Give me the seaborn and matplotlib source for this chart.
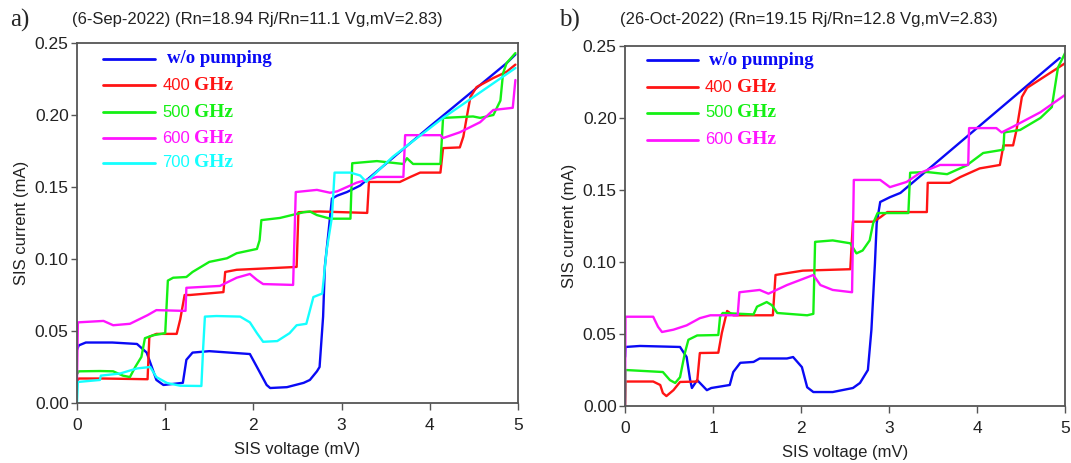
import numpy as np
import pandas as pd
import matplotlib
matplotlib.use("Agg")
import matplotlib.pyplot as plt
import seaborn as sns
from matplotlib.ticker import FormatStrFormatter

# ---- panel a) 6-Sep-2022 ----
a_blue_v = [0, 0.02, 0.1, 0.4, 0.68, 0.79, 0.9, 0.98, 1.2, 1.24, 1.31, 1.5, 1.96, 2.04, 2.15, 2.19, 2.38, 2.57,
            2.64, 2.72, 2.75, 2.79, 2.81, 2.85, 2.89, 2.95, 3.06, 3.21, 4.0, 4.87, 4.97]
a_blue_i = [0.037, 0.040, 0.042, 0.042, 0.041, 0.035, 0.016, 0.0125, 0.014, 0.030, 0.035, 0.036, 0.034, 0.025,
            0.0125, 0.0104, 0.011, 0.014, 0.016, 0.022, 0.025, 0.06, 0.095, 0.118, 0.142, 0.144, 0.1465, 0.151,
            0.192, 0.236, 0.242]

a_red_v = [0, 0.02, 0.3, 0.8, 0.82, 0.9, 1.13, 1.17, 1.22, 1.28, 1.66, 1.68, 1.81, 2.49, 2.51, 2.75, 3.29, 3.31,
           3.66, 3.78, 3.89, 4.12, 4.15, 4.34, 4.38, 4.42, 4.46, 4.53, 4.72, 4.87, 4.97]
a_red_i = [0.015, 0.017, 0.017, 0.0165, 0.046, 0.048, 0.048, 0.058, 0.075, 0.075, 0.077, 0.091, 0.0925, 0.0945,
           0.1325, 0.133, 0.132, 0.1535, 0.1535, 0.157, 0.160, 0.160, 0.177, 0.1775, 0.185, 0.199, 0.2125, 0.2194,
           0.2257, 0.230, 0.235]

a_green_v = [0, 0.02, 0.26, 0.41, 0.52, 0.6, 0.66, 0.73, 0.77, 0.86, 1.0, 1.03, 1.09, 1.24, 1.31, 1.5, 1.7, 1.81,
             2.04, 2.07, 2.09, 2.3, 2.57, 2.64, 2.72, 2.87, 3.1, 3.12, 3.40, 3.70, 3.74, 3.81, 4.12, 4.15, 4.49,
             4.57, 4.72, 4.80, 4.83, 4.87, 4.97]
a_green_i = [0.02, 0.022, 0.0222, 0.022, 0.019, 0.018, 0.025, 0.032, 0.045, 0.047, 0.0485, 0.085, 0.087, 0.0875,
             0.091, 0.098, 0.1005, 0.104, 0.107, 0.113, 0.127, 0.1285, 0.1325, 0.133, 0.1305, 0.128, 0.128, 0.1665,
             0.168, 0.166, 0.170, 0.166, 0.166, 0.198, 0.199, 0.198, 0.200, 0.210, 0.229, 0.236, 0.243]

a_magenta_v = [0, 0.01, 0.3, 0.41, 0.6, 0.8, 0.9, 1.2, 1.23, 1.24, 1.62, 1.81, 1.96, 2.04, 2.11, 2.45, 2.48, 2.72,
               2.87, 2.95, 3.17, 3.40, 3.70, 3.72, 4.12, 4.15, 4.34, 4.57, 4.72, 4.94, 4.97]
a_magenta_i = [0.015, 0.056, 0.057, 0.054, 0.055, 0.061, 0.0645, 0.064, 0.064, 0.080, 0.0813, 0.087, 0.0896,
               0.0855, 0.0826, 0.082, 0.1465, 0.148, 0.146, 0.147, 0.153, 0.157, 0.157, 0.186, 0.186, 0.184, 0.188,
               0.195, 0.2035, 0.205, 0.2243]

a_cyan_v = [0, 0.01, 0.26, 0.27, 0.49, 0.68, 0.83, 0.9, 1.02, 1.17, 1.41, 1.43, 1.45, 1.58, 1.85, 1.96, 2.04, 2.11,
            2.27, 2.41, 2.49, 2.60, 2.68, 2.78, 2.83, 2.89, 2.92, 3.10, 3.21, 3.28, 3.58, 4.15, 4.34, 4.97]
a_cyan_i = [0.0, 0.0146, 0.016, 0.019, 0.0205, 0.024, 0.025, 0.018, 0.0139, 0.012, 0.0118, 0.038, 0.060, 0.0604,
            0.060, 0.056, 0.0485, 0.0425, 0.043, 0.0485, 0.054, 0.055, 0.0736, 0.076, 0.106, 0.129, 0.160, 0.160,
            0.158, 0.1535, 0.171, 0.198, 0.206, 0.2326]

# ---- panel b) 26-Oct-2022 ----
b_blue_v = [0, 0.005, 0.17, 0.625, 0.70, 0.74, 0.76, 0.82, 0.93, 0.98, 1.19, 1.23, 1.31, 1.46, 1.53, 1.84, 1.91,
            2.01, 2.07, 2.14, 2.36, 2.59, 2.67, 2.76, 2.80, 2.84, 2.86, 2.90, 3.01, 3.13, 4.94]
b_blue_i = [0.034, 0.041, 0.0417, 0.041, 0.034, 0.018, 0.0125, 0.018, 0.011, 0.0125, 0.0146, 0.0236, 0.030,
            0.0306, 0.033, 0.033, 0.034, 0.027, 0.013, 0.0097, 0.0097, 0.0125, 0.016, 0.025, 0.053, 0.099, 0.127,
            0.1417, 0.145, 0.148, 0.2417]

b_red_v = [0, 0.005, 0.32, 0.40, 0.43, 0.47, 0.55, 0.625, 0.82, 0.85, 1.06, 1.10, 1.16, 1.23, 1.68, 1.71, 2.02,
           2.56, 2.59, 2.82, 2.90, 2.98, 3.43, 3.44, 3.69, 3.81, 4.03, 4.26, 4.30, 4.41, 4.45, 4.51, 4.57, 5.0]
b_red_i = [0.0, 0.017, 0.017, 0.0146, 0.009, 0.0069, 0.011, 0.0167, 0.017, 0.0368, 0.037, 0.0507, 0.066, 0.063,
           0.063, 0.091, 0.094, 0.095, 0.128, 0.128, 0.131, 0.1347, 0.1347, 0.155, 0.155, 0.159, 0.165, 0.1674,
           0.181, 0.181, 0.192, 0.2146, 0.221, 0.238]

b_green_v = [0, 0.005, 0.43, 0.51, 0.57, 0.625, 0.68, 0.72, 0.82, 1.06, 1.08, 1.11, 1.46, 1.50, 1.61, 1.67, 1.73,
             2.07, 2.14, 2.16, 2.36, 2.56, 2.63, 2.70, 2.78, 2.82, 2.87, 3.22, 3.24, 3.43, 3.66, 3.88, 4.07, 4.30,
             4.31, 4.49, 4.72, 4.85, 4.92, 5.0]
b_green_i = [0.0, 0.025, 0.0236, 0.018, 0.016, 0.020, 0.0368, 0.046, 0.049, 0.0493, 0.062, 0.0646, 0.0636, 0.069,
             0.0722, 0.070, 0.0646, 0.063, 0.064, 0.114, 0.115, 0.113, 0.106, 0.108, 0.115, 0.127, 0.134, 0.134,
             0.162, 0.1625, 0.161, 0.167, 0.1757, 0.178, 0.190, 0.1917, 0.200, 0.2076, 0.235, 0.245]

b_magenta_v = [0, 0.005, 0.32, 0.375, 0.42, 0.55, 0.70, 0.85, 0.97, 1.28, 1.30, 1.53, 1.63, 1.84, 2.14, 2.22,
               2.36, 2.58, 2.60, 2.90, 3.01, 3.20, 3.35, 3.58, 3.90, 3.91, 4.22, 4.28, 4.41, 4.72, 5.0]
b_magenta_i = [0.0, 0.062, 0.062, 0.055, 0.0514, 0.053, 0.056, 0.061, 0.063, 0.063, 0.079, 0.0806, 0.078, 0.084,
               0.091, 0.084, 0.0806, 0.079, 0.157, 0.157, 0.152, 0.1556, 0.1618, 0.1674, 0.1674, 0.193, 0.193,
               0.190, 0.194, 0.204, 0.216]

titles = ["(6-Sep-2022) (Rn=18.94 Rj/Rn=11.1 Vg,mV=2.83)",
          "(26-Oct-2022) (Rn=19.15 Rj/Rn=12.8 Vg,mV=2.83)"]
panel_tags = ["a)", "b)"]

colors = {"w/o": "#0a0af5", "400": "#ff1414", "500": "#14f014", "600": "#ff14ff", "700": "#14ffff"}

sns.set_style("white")
plt.rcParams["font.family"] = ["Liberation Sans", "DejaVu Sans"]

fig = plt.figure(figsize=(10.71, 4.63), dpi=100)
ax_a = fig.add_axes([0.0719, 0.1296, 0.4118, 0.7775])
ax_b = fig.add_axes([0.5836, 0.1231, 0.4108, 0.7775])

curves_a = [(a_blue_v, a_blue_i, "w/o"), (a_red_v, a_red_i, "400"), (a_green_v, a_green_i, "500"),
            (a_magenta_v, a_magenta_i, "600"), (a_cyan_v, a_cyan_i, "700")]
curves_b = [(b_blue_v, b_blue_i, "w/o"), (b_red_v, b_red_i, "400"), (b_green_v, b_green_i, "500"),
            (b_magenta_v, b_magenta_i, "600")]


def draw(ax, curves, title, tag, leg_x0, leg_x1, txt_x, num_x, ghz_dx, leg_y):
    for v, i, key in curves:
        sns.lineplot(x=v, y=i, ax=ax, color=colors[key], lw=1.7, estimator=None, sort=False)
    ax.set_xlim(0, 5)
    ax.set_ylim(0, 0.25)
    ax.set_xticks([0, 1, 2, 3, 4, 5])
    ax.set_yticks([0, 0.05, 0.10, 0.15, 0.20, 0.25])
    ax.yaxis.set_major_formatter(FormatStrFormatter("%.2f"))
    ax.tick_params(axis="both", direction="out", length=4, width=1, color="#555555",
                   labelsize=12.5, pad=2, bottom=True, left=True, labelcolor="#222222")
    ax.tick_params(axis="x", length=5, pad=6)
    for sp in ax.spines.values():
        sp.set_color("#555555")
        sp.set_linewidth(1.3)
    ax.set_xlabel("SIS voltage (mV)", fontsize=12, labelpad=6, color="#222222")
    ax.set_ylabel("SIS current (mA)", fontsize=12, labelpad=4, color="#222222")

    # hand-made legend, mixed fonts like the original
    for k, (v, i, key) in enumerate(curves):
        y = leg_y[k]
        ax.plot([leg_x0, leg_x1], [y, y], transform=ax.transAxes, color=colors[key], lw=2)
        if key == "w/o":
            ax.text(txt_x, y, "w/o pumping", transform=ax.transAxes, color=colors[key],
                    family=["Liberation Serif"], weight="bold", fontsize=13.5, va="center")
        else:
            ax.text(num_x, y, key, transform=ax.transAxes, color=colors[key],
                    fontsize=12, va="center")
            ax.text(num_x + ghz_dx, y, "GHz", transform=ax.transAxes, color=colors[key],
                    family=["Liberation Serif"], weight="bold", fontsize=14, va="center")

    bb = ax.get_position()
    fig.text(bb.x0 - 0.062, 0.955, tag, family=["Liberation Serif"], fontsize=18, va="center")
    fig.text(bb.x0 - 0.005, 0.958, title, fontsize=12, va="center", color="#222222")


draw(ax_a, curves_a, titles[0], panel_tags[0], 0.059, 0.177, 0.205, 0.193, 0.072,
     [0.956, 0.883, 0.808, 0.736, 0.667])
draw(ax_b, curves_b, titles[1], panel_tags[1], 0.05, 0.166, 0.191, 0.182, 0.073,
     [0.961, 0.886, 0.814, 0.739])

fig.savefig("out.png", dpi=100)
